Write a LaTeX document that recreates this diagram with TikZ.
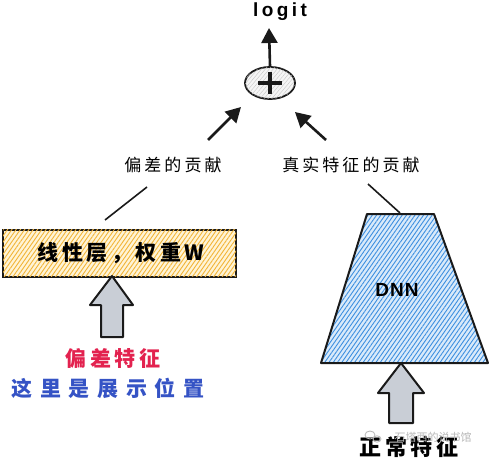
\documentclass[tikz,border=0pt]{standalone}
\usepackage{fontspec}
\setmainfont{Liberation Sans}
\newfontfamily\cjk{Noto Sans CJK SC}
\usetikzlibrary{arrows.meta,patterns.meta,shapes.geometric}
\definecolor{orH}{HTML}{F2B437}
\definecolor{orBg}{HTML}{FFF4D6}
\definecolor{blH}{HTML}{3D8FE0}
\definecolor{blBg}{HTML}{D9EAFA}
\definecolor{agray}{HTML}{C9CED6}
\definecolor{redT}{HTML}{E3224F}
\definecolor{bluT}{HTML}{3553C5}
\definecolor{ink}{HTML}{1A1A1A}
\tikzset{
  arr/.style={draw=ink, line width=2.6pt, -{Triangle[length=15pt,width=16pt]}},
  lab/.style={font=\cjk\fontsize{17}{17}\selectfont\addfontfeatures{LetterSpace=18}, inner sep=0pt},
  big/.style={font=\cjk\bfseries\fontsize{21}{21}\selectfont\addfontfeatures{LetterSpace=17}, inner sep=0pt},
  blockarrow/.style={draw=ink, fill=agray, line width=2pt, line join=round},
  thin line/.style={draw=ink, line width=1.6pt}
}
\begin{document}
\begin{tikzpicture}[x=1pt,y=-1pt]
\path[use as bounding box] (0,0) rectangle (490,460);
\fill[white] (0,0) rectangle (490,460);

% logit and plus
\node[font=\bfseries\fontsize{19}{19}\selectfont\addfontfeatures{LetterSpace=18}, inner sep=0pt] (logit) at (280,12) {logit};
\node[ellipse, draw=ink, line width=1.8pt, minimum width=50pt, minimum height=32pt, fill=gray!8, postaction={pattern={Lines[angle=50,distance=3pt,line width=0.4pt]}, pattern color=gray!45}] (plus) at (270,83) {};
\draw[ink, line width=4pt] ([xshift=-12pt]plus.center) -- ([xshift=12pt]plus.center);
\draw[ink, line width=4pt] ([yshift=-11pt]plus.center) -- ([yshift=11pt]plus.center);
\coordinate (logitbase) at (269,28);
\draw[arr] (plus.north) -- (logitbase);

% contributions
\node[lab] (bl) at (173,165) {偏差的贡献};
\node[lab] (rl) at (351,165) {真实特征的贡献};
\coordinate (la0) at (208,140);
\coordinate (la1) at (241,107);
\coordinate (ra0) at (326,140);
\coordinate (ra1) at (295,112);
\draw[arr] (la0) -- (la1);
\draw[arr] (ra0) -- (ra1);

% linear layer
\node[draw=ink, line width=2pt, minimum width=233pt, minimum height=47pt, inner sep=0pt, fill=orBg,
  postaction={pattern={Lines[angle=55,distance=3.5pt,line width=0.9pt]}, pattern color=orH}] (lin) at (119.5,253) {};
\node[big] (lintext) at (121,253) {线性层，权重W};
\coordinate (lc0) at (105,220);
\coordinate (lc1) at (147,187);
\draw[thin line] (lc0) -- (lc1);

% DNN trapezoid
\coordinate (t1) at (367,214);
\coordinate (t2) at (434,214);
\coordinate (t3) at (488,363);
\coordinate (t4) at (321,363);
\path[fill=blBg, postaction={pattern={Lines[angle=55,distance=3.5pt,line width=0.9pt]}, pattern color=blH}] (t1) -- (t2) -- (t3) -- (t4) -- cycle;
\draw[ink, line width=2pt, line join=round] (t1) -- (t2) -- (t3) -- (t4) -- cycle;
\node[font=\bfseries\fontsize{19}{19}\selectfont\addfontfeatures{LetterSpace=5}, inner sep=0pt] (dnn) at (397,290) {DNN};
\coordinate (dc0) at (368,184);
\coordinate (dc1) at (400,213);
\draw[thin line] (dc0) -- (dc1);

% block arrows
\draw[blockarrow] (112,276) -- (133,305) -- (123,305) -- (123,337) -- (101,337) -- (101,305) -- (90,305) -- cycle;
\draw[blockarrow] (401,363) -- (424,393) -- (413,393) -- (413,423) -- (389,423) -- (389,393) -- (378,393) -- cycle;

% bottom texts
\node[big, text=redT] (bias) at (113,358) {偏差特征};
\node[big, text=bluT, font=\cjk\bfseries\fontsize{21}{21}\selectfont\addfontfeatures{LetterSpace=36}] (here) at (108,388) {这里是展示位置};
\node[big, font=\cjk\bfseries\fontsize{22}{22}\selectfont\addfontfeatures{LetterSpace=17}] (normal) at (409,447) {正常特征};

% watermark
\node[font=\cjk\fontsize{11}{11}\selectfont, text=gray!55, inner sep=0pt] (wm) at (433,437) {石塔西的说书馆};
\draw[gray!55, line width=0.8pt] (370,435) ellipse (5pt and 4pt);
\draw[gray!55, line width=0.8pt] (377,439) ellipse (4pt and 3.2pt);
\end{tikzpicture}
\end{document}
